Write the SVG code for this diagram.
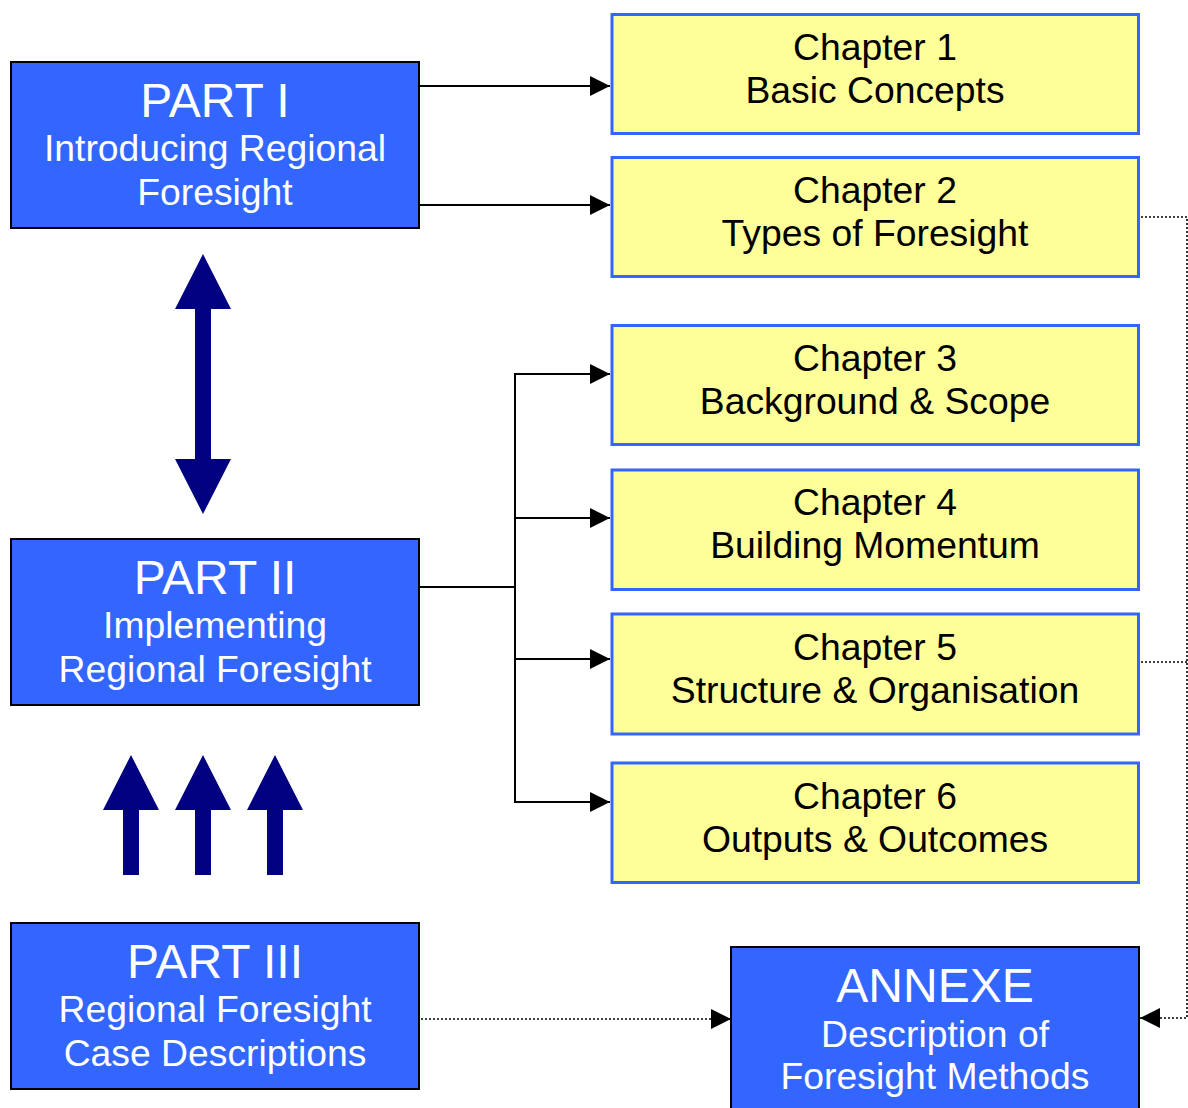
<svg xmlns="http://www.w3.org/2000/svg" width="1188" height="1108" viewBox="0 0 1188 1108">
<defs>
<style>
.part{fill:#3366FF;stroke:#000;stroke-width:2}
.chap{fill:#FFFF99;stroke:#3366FF;stroke-width:3}
.wt{fill:#fff;font-family:"Liberation Sans",Arial,sans-serif;text-anchor:middle}
.bt{fill:#000;font-family:"Liberation Sans",Arial,sans-serif;text-anchor:middle;font-size:37.3px}
.big{font-size:48px}
.sub{font-size:37.3px}
.ln{fill:none;stroke:#000;stroke-width:2}
.dot{fill:none;stroke:#000;stroke-width:1.6;stroke-dasharray:2 2}
.navy{fill:#000080}
</style>
<marker id="ah" markerWidth="20" markerHeight="20" refX="20" refY="10" orient="auto" markerUnits="userSpaceOnUse">
<path d="M0,0 L20,10 L0,20 Z" fill="#000"/>
</marker>
</defs>

<g id="connectors">
<line class="ln" x1="420" y1="86" x2="610" y2="86" marker-end="url(#ah)"/>
<line class="ln" x1="420" y1="205" x2="610" y2="205" marker-end="url(#ah)"/>
<polyline class="ln" points="420,587 515,587"/>
<line class="ln" x1="515" y1="373" x2="515" y2="803"/>
<line class="ln" x1="514" y1="374" x2="610" y2="374" marker-end="url(#ah)"/>
<line class="ln" x1="514" y1="518" x2="610" y2="518" marker-end="url(#ah)"/>
<line class="ln" x1="514" y1="659" x2="610" y2="659" marker-end="url(#ah)"/>
<line class="ln" x1="514" y1="802" x2="610" y2="802" marker-end="url(#ah)"/>
<polyline class="dot" points="1141,217 1187,217 1187,1018 1140,1018" marker-end="url(#ah)"/>
<line class="dot" x1="1141" y1="662" x2="1187" y2="662"/>
<line class="dot" x1="421" y1="1019" x2="731" y2="1019" marker-end="url(#ah)"/>
<path class="navy" d="M203,254 L231,309 L211,309 L211,459 L231,459 L203,514 L175,459 L195,459 L195,309 L175,309 Z"/>
<path class="navy" d="M131,755 L159,810 L139,810 L139,875 L123,875 L123,810 L103,810 Z"/>
<path class="navy" d="M203,755 L231,810 L211,810 L211,875 L195,875 L195,810 L175,810 Z"/>
<path class="navy" d="M275,755 L303,810 L283,810 L283,875 L267,875 L267,810 L247,810 Z"/>
</g>

<g id="part1">
<rect class="part" x="11" y="62" width="408" height="166"/>
<text class="wt big" x="215" y="117">PART I</text>
<text class="wt sub" x="215" y="161">Introducing Regional</text>
<text class="wt sub" x="215" y="205">Foresight</text>
</g>

<g id="part2">
<rect class="part" x="11" y="539" width="408" height="166"/>
<text class="wt big" x="215" y="594">PART II</text>
<text class="wt sub" x="215" y="638">Implementing</text>
<text class="wt sub" x="215" y="682">Regional Foresight</text>
</g>

<g id="part3">
<rect class="part" x="11" y="923" width="408" height="166"/>
<text class="wt big" x="215" y="978">PART III</text>
<text class="wt sub" x="215" y="1022">Regional Foresight</text>
<text class="wt sub" x="215" y="1066">Case Descriptions</text>
</g>

<g id="annexe">
<rect class="part" x="731" y="947" width="408" height="170"/>
<text class="wt big" x="935" y="1002">ANNEXE</text>
<text class="wt sub" x="935" y="1047">Description of</text>
<text class="wt sub" x="935" y="1089">Foresight Methods</text>
</g>

<g id="ch1">
<rect class="chap" x="612" y="14.5" width="526.5" height="119"/>
<text class="bt" x="875" y="60">Chapter 1</text>
<text class="bt" x="875" y="103">Basic Concepts</text>
</g>
<g id="ch2">
<rect class="chap" x="612" y="157.5" width="526.5" height="119"/>
<text class="bt" x="875" y="203">Chapter 2</text>
<text class="bt" x="875" y="246">Types of Foresight</text>
</g>
<g id="ch3">
<rect class="chap" x="612" y="325.5" width="526.5" height="119"/>
<text class="bt" x="875" y="371">Chapter 3</text>
<text class="bt" x="875" y="414">Background &amp; Scope</text>
</g>
<g id="ch4">
<rect class="chap" x="612" y="470" width="526.5" height="119.5"/>
<text class="bt" x="875" y="515">Chapter 4</text>
<text class="bt" x="875" y="558">Building Momentum</text>
</g>
<g id="ch5">
<rect class="chap" x="612" y="614" width="526.5" height="120"/>
<text class="bt" x="875" y="660">Chapter 5</text>
<text class="bt" x="875" y="703">Structure &amp; Organisation</text>
</g>
<g id="ch6">
<rect class="chap" x="612" y="763" width="526.5" height="119.5"/>
<text class="bt" x="875" y="809">Chapter 6</text>
<text class="bt" x="875" y="852">Outputs &amp; Outcomes</text>
</g>
</svg>
